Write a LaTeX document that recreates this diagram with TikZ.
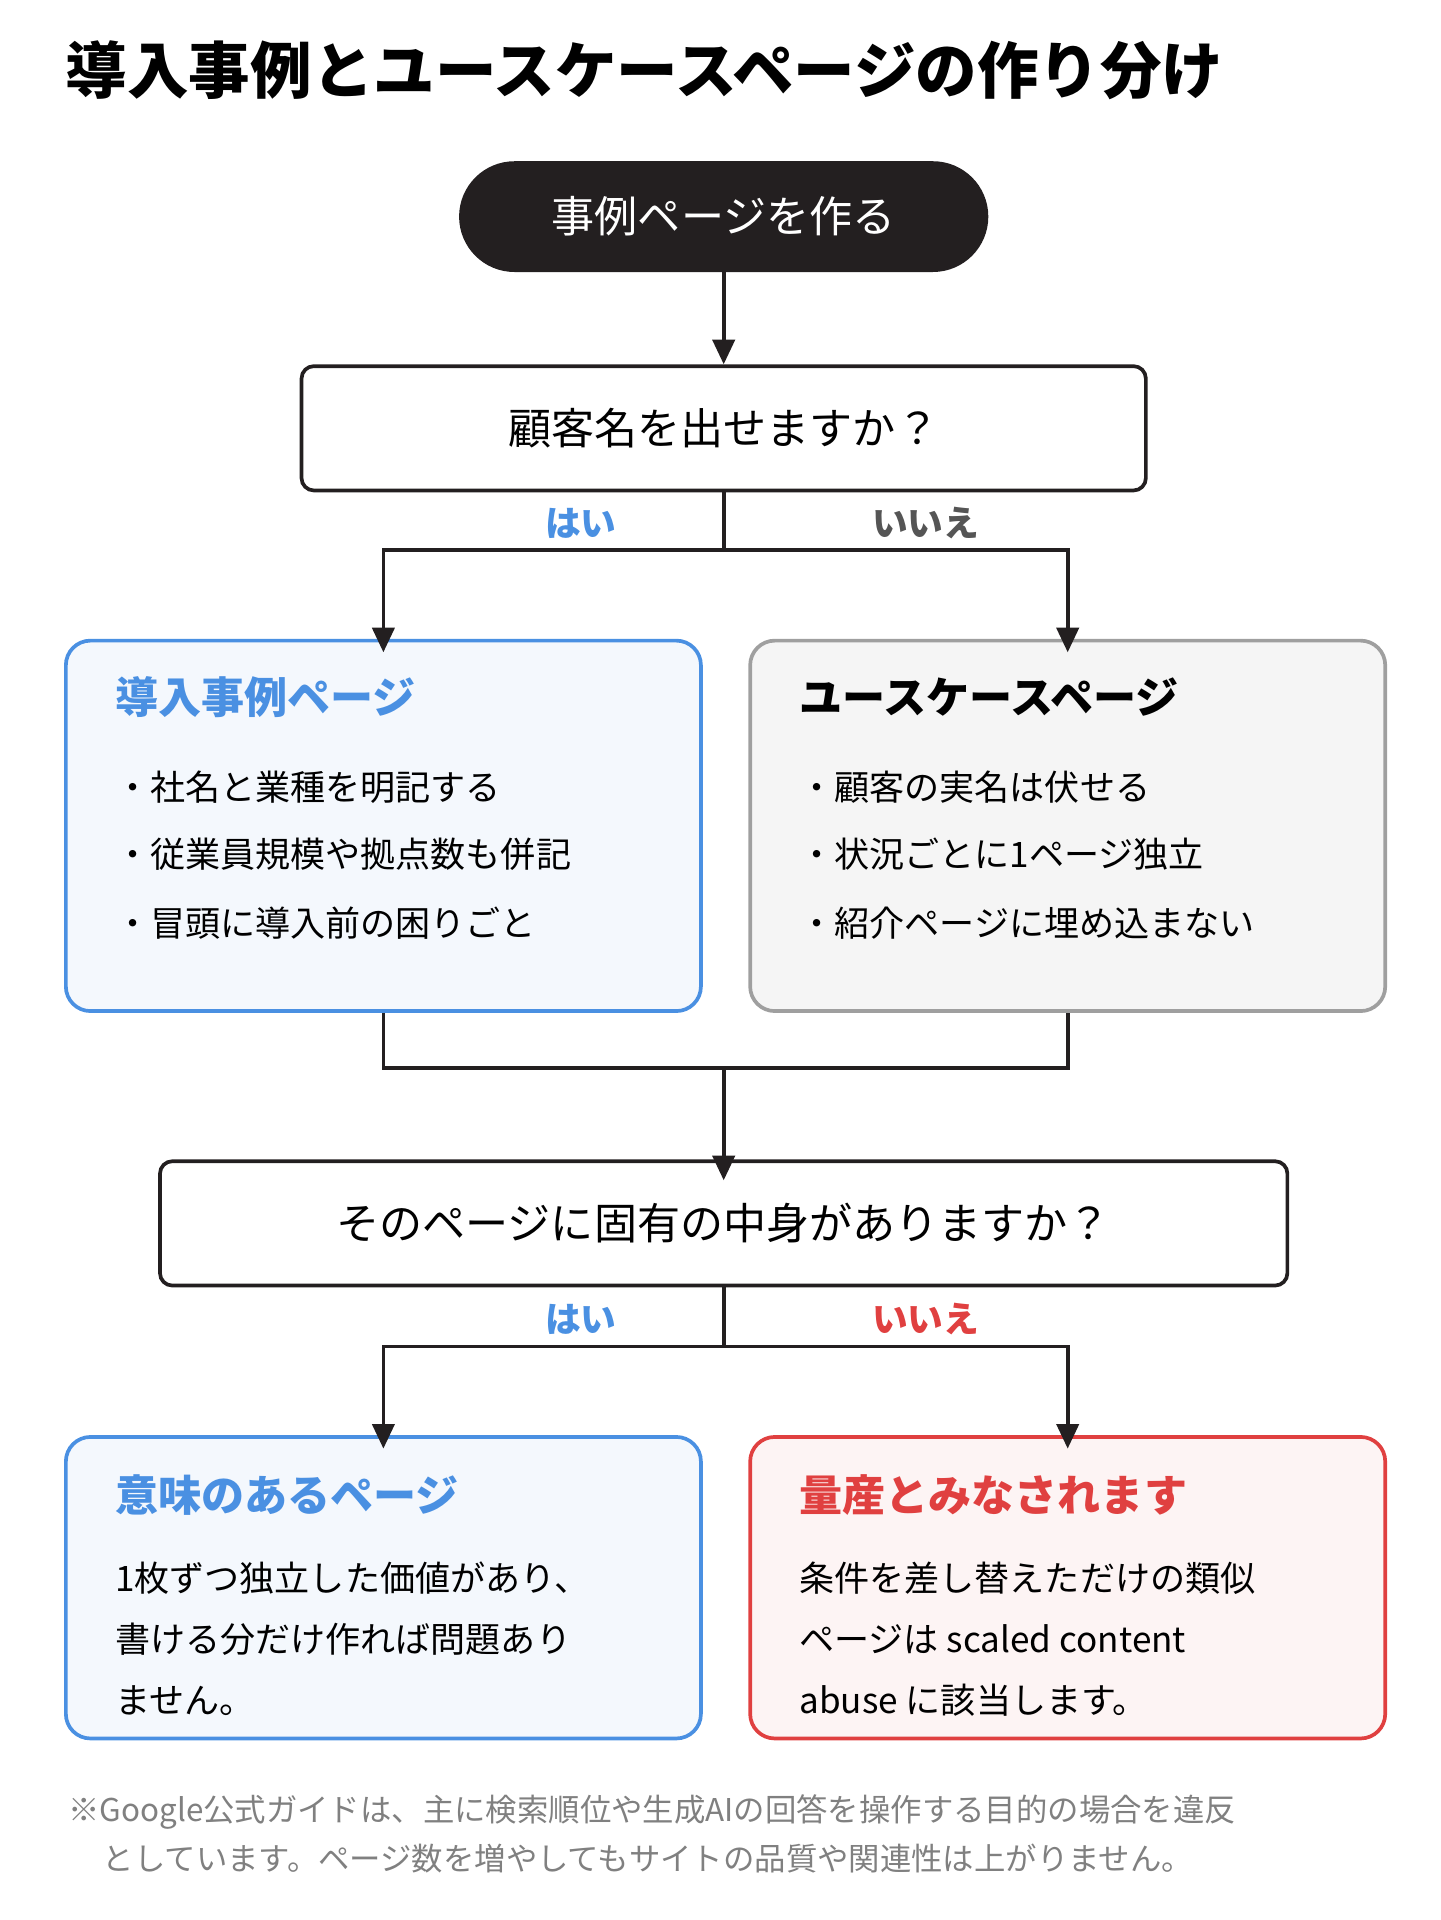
\documentclass[tikz,border=0pt]{standalone}
\usepackage{fontspec}
\setmainfont{Noto Sans CJK JP}
\usetikzlibrary{positioning,arrows.meta}
\definecolor{inkdark}{HTML}{231F20}
\definecolor{yesblue}{HTML}{4A90E2}
\definecolor{nored}{HTML}{E04040}
\definecolor{nogray}{HTML}{555555}
\tikzset{
  qbox/.style={draw=inkdark, line width=3pt, rounded corners=10pt, minimum height=101pt, font=\fontsize{35}{40}\selectfont},
  panel/.style={line width=3pt, rounded corners=20pt, minimum width=516pt, minimum height=#1, anchor=north west},
  flow/.style={draw=inkdark, line width=3pt},
  arr/.style={flow, -{Triangle[length=20pt,width=18pt]}},
  lbl/.style={font=\bfseries\fontsize{29}{32}\selectfont},
  ptitle/.style={anchor=base west, font=\bfseries\fontsize{35}{40}\selectfont},
  item/.style={anchor=base west, font=\fontsize{28.5}{34}\selectfont}
}
\begin{document}
\begin{tikzpicture}[x=1pt,y=-1pt]
\useasboundingbox (0,0) rectangle (1170,1560);
% title
\node[anchor=base west, font=\bfseries\fontsize{50}{56}\selectfont] (title) at (50,76) {導入事例とユースケースページの作り分け};
% start
\node[fill=inkdark, text=white, rounded corners=45pt, minimum width=430pt, minimum height=90pt, font=\fontsize{35}{40}\selectfont] (start) at (588,176) {事例ページを作る};
\node[qbox, minimum width=686pt] (q1) at (588,348) {顧客名を出せますか？};
\draw[arr] (start) -- (q1);
% panels
\node[panel=301pt, draw=yesblue, fill=yesblue!6] (case) at (52,519) {};
\node[panel=301pt, draw=gray!75, fill=gray!8] (usecase) at (608,519) {};
\node[ptitle, text=yesblue] (caseT) at (90,580) {導入事例ページ};
\node[item] at (90,650) {・社名と業種を明記する};
\node[item] at (90,705) {・従業員規模や拠点数も併記};
\node[item] at (90,761) {・冒頭に導入前の困りごと};
\node[ptitle] (usecaseT) at (646,580) {ユースケースページ};
\node[item] at (646,650) {・顧客の実名は伏せる};
\node[item] at (646,705) {・状況ごとに1ページ独立};
\node[item] at (646,761) {・紹介ページに埋め込まない};
% split 1
\coordinate (s1) at (588,447);
\draw[flow] (q1.south) -- (s1);
\draw[arr] (s1) -| ([yshift=-11pt]case.north);
\draw[arr] (s1) -| ([yshift=-11pt]usecase.north);
\node[lbl, text=yesblue] at (472,425) {はい};
\node[lbl, text=nogray] at (752,425) {いいえ};
% merge
\coordinate (m1) at (588,868);
\node[qbox, minimum width=916pt] (q2) at (588,994) {そのページに固有の中身がありますか？};
\draw[flow] (case.south) |- (m1) -| (usecase.south);
\draw[arr] (m1) -- ([yshift=-17pt]q2.north);
% split 2
\coordinate (s2) at (588,1094);
\node[panel=245pt, draw=yesblue, fill=yesblue!6] (good) at (52,1166) {};
\node[panel=245pt, draw=nored, fill=nored!6] (mass) at (608,1166) {};
\draw[flow] (q2.south) -- (s2);
\draw[arr] (s2) -| ([yshift=-11pt]good.north);
\draw[arr] (s2) -| ([yshift=-11pt]mass.north);
\node[lbl, text=yesblue] at (472,1072) {はい};
\node[lbl, text=nored] at (752,1072) {いいえ};
\node[ptitle, text=yesblue] at (90,1228) {意味のあるページ};
\node[item] at (90,1293) {1枚ずつ独立した価値があり、};
\node[item] at (90,1343) {書ける分だけ作れば問題あり};
\node[item] at (90,1392) {ません。};
\node[ptitle, text=nored] at (646,1228) {量産とみなされます};
\node[item] at (646,1293) {条件を差し替えただけの類似};
\node[item] at (646,1343) {ページは scaled content};
\node[item] at (646,1392) {abuse に該当します。};
% note
\node[anchor=base west, text=gray, font=\fontsize{25.5}{30}\selectfont] (note1) at (52,1480) {※Google公式ガイドは、主に検索順位や生成AIの回答を操作する目的の場合を違反};
\node[anchor=base west, text=gray, font=\fontsize{25.5}{30}\selectfont] (note2) at (80,1520) {としています。ページ数を増やしてもサイトの品質や関連性は上がりません。};
\end{tikzpicture}
\end{document}
